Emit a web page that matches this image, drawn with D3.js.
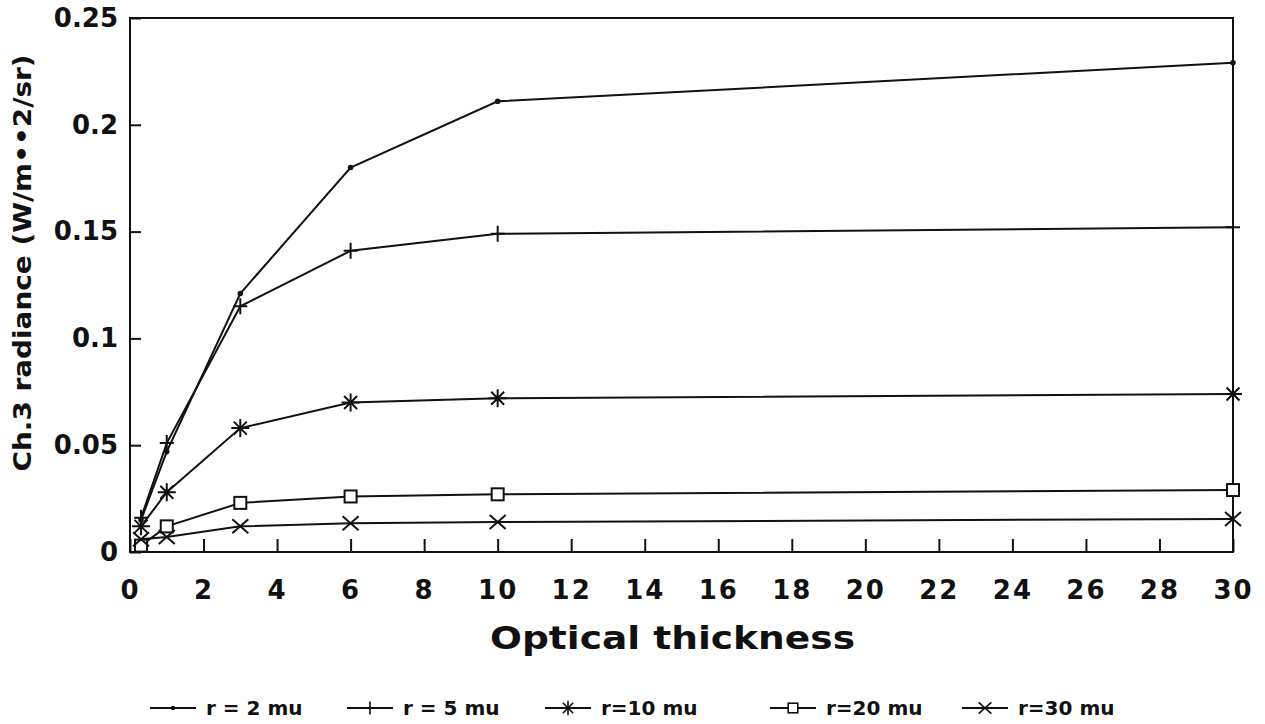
<!DOCTYPE html>
<html>
<head>
<meta charset="utf-8">
<script src="https://cdnjs.cloudflare.com/ajax/libs/d3/7.8.5/d3.min.js"></script>
<style>
  body { margin: 0; background: #fff; }
  text { font-family: "DejaVu Sans", "Liberation Sans", sans-serif; font-weight: bold; fill: #111; }
</style>
</head>
<body>
<div id="chart"></div>
<script>
"use strict";
var thickness = [0.3, 1, 3, 6, 10, 30];
var seriesNames = ['r = 2 mu', 'r = 5 mu', 'r=10 mu', 'r=20 mu', 'r=30 mu'];
var seriesMarkers = ['dot', 'plus', 'star', 'square', 'cross'];
var r2 = [0.015, 0.047, 0.121, 0.180, 0.211, 0.229];
var r5 = [0.016, 0.051, 0.115, 0.141, 0.149, 0.152];
var r10 = [0.012, 0.028, 0.058, 0.070, 0.072, 0.074];
var r20 = [0.003, 0.012, 0.023, 0.026, 0.027, 0.029];
var r30 = [0.006, 0.007, 0.012, 0.0135, 0.014, 0.0155];
var xTicks = d3.range(0, 31, 2);
var yTicks = [0, 0.05, 0.1, 0.15, 0.2, 0.25];
var yTickLabels = ['0', '0.05', '0.1', '0.15', '0.2', '0.25'];

var width = 1265, height = 724;
var margin = { top: 18, right: 32, bottom: 172, left: 130 };
var w = width - margin.left - margin.right, h = height - margin.top - margin.bottom;

var svg = d3.select('#chart')
    .append('svg')
    .attr('width', width)
    .attr('height', height)
    .append('g')
    .attr('transform', 'translate(' + margin.left + ',' + margin.top + ')');

var x = d3.scaleLinear().domain([0, 30]).range([0, w]);
var y = d3.scaleLinear().domain([0, 0.25]).range([h, 0]);

var xAxis = svg.append('g')
    .attr('transform', 'translate(0,' + h + ')')
    .call(d3.axisBottom(x).tickValues(xTicks).tickSizeInner(-13).tickSizeOuter(0).tickPadding(29));
var yAxis = svg.append('g')
    .call(d3.axisLeft(y).tickValues(yTicks).tickSizeInner(-11).tickSizeOuter(0).tickPadding(12)
        .tickFormat(function (d, i) { return yTickLabels[i]; }));
[xAxis, yAxis].forEach(function (ax) {
    ax.select('.domain').remove();
    ax.selectAll('line').attr('stroke', '#111').attr('stroke-width', 2);
    ax.selectAll('text')
        .style('font-size', '26px')
        .style('font-family', '"DejaVu Sans", sans-serif')
        .style('font-weight', 'bold')
        .attr('fill', '#111');
});
xAxis.selectAll('text').attr('letter-spacing', 2);

svg.append('rect')
    .attr('width', w)
    .attr('height', h)
    .attr('fill', 'none')
    .attr('stroke', '#111')
    .attr('stroke-width', 2);

var series = [r2, r5, r10, r20, r30].map(function (vals, i) {
    return {
        name: seriesNames[i],
        marker: seriesMarkers[i],
        points: vals.map(function (v, j) { return [thickness[j], v]; })
    };
});

var line = d3.line()
    .x(function (d) { return x(d[0]); })
    .y(function (d) { return y(d[1]); });

function drawMarker(g, type) {
    if (type === 'dot') {
        g.append('circle').attr('r', 2.8).attr('fill', '#111');
    } else if (type === 'plus') {
        g.append('path').attr('d', 'M0,-8V8M-7,0H7');
    } else if (type === 'star') {
        g.append('path').attr('d', 'M0,-9V9M-9,0H9M-6.5,-6.5L6.5,6.5M-6.5,6.5L6.5,-6.5');
    } else if (type === 'square') {
        g.append('rect').attr('x', -6).attr('y', -6).attr('width', 12).attr('height', 12);
    } else if (type === 'cross') {
        g.append('path').attr('d', 'M-8,-7L8,7M-8,7L8,-7');
    }
    g.selectAll('path, rect')
        .attr('stroke', '#111')
        .attr('stroke-width', 2)
        .attr('fill', type === 'square' ? '#fff' : 'none');
}

var groups = svg.selectAll('.series')
    .data(series)
    .enter().append('g')
    .classed('series', true);

groups.append('path')
    .attr('d', function (d) { return line(d.points); })
    .attr('fill', 'none')
    .attr('stroke', '#111')
    .attr('stroke-width', 2);

groups.each(function (d) {
    var g = d3.select(this);
    d.points.forEach(function (p) {
        var m = g.append('g')
            .attr('transform', 'translate(' + x(p[0]) + ',' + y(p[1]) + ')');
        drawMarker(m, d.marker);
    });
});

svg.append('text')
    .attr('x', w / 2 - 9)
    .attr('y', h + 97)
    .attr('text-anchor', 'middle')
    .attr('textLength', 365)
    .attr('lengthAdjust', 'spacingAndGlyphs')
    .style('font-size', '32px')
    .text('Optical thickness');

svg.append('text')
    .attr('transform', 'translate(' + (31 - margin.left) + ',' + (263 - margin.top) + ') rotate(-90)')
    .attr('text-anchor', 'middle')
    .attr('textLength', 417)
    .attr('lengthAdjust', 'spacingAndGlyphs')
    .style('font-size', '25px')
    .text('Ch.3 radiance (W/m\u2022\u20222/sr)');

// legend below the plot
var legendX = [150, 347, 545, 770, 962];
var legend = svg.selectAll('.legend')
    .data(series)
    .enter().append('g')
    .classed('legend', true)
    .attr('transform', function (d, i) { return 'translate(' + (legendX[i] - margin.left) + ',' + (708 - margin.top) + ')'; });

legend.append('line')
    .attr('x1', 0)
    .attr('x2', 46)
    .attr('stroke', '#111')
    .attr('stroke-width', 2);
legend.each(function (d) {
    var m = d3.select(this).append('g');
    drawMarker(m, d.marker);
    m.attr('transform', 'translate(23,0) scale(0.8)');
});
legend.append('text')
    .attr('x', 56)
    .attr('dy', '0.36em')
    .style('font-size', '20px')
    .text(function (d) { return d.name; });
</script>
</body>
</html>
